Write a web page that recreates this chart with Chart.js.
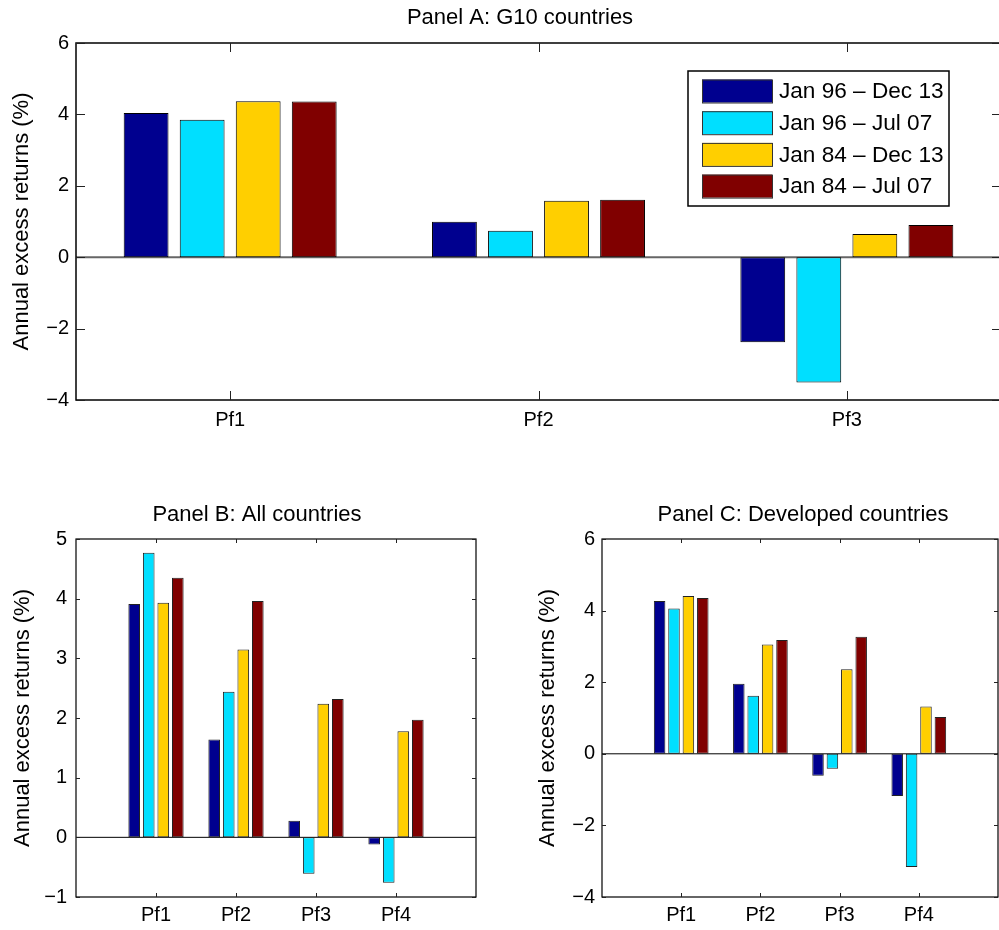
<!DOCTYPE html>
<html><head><meta charset="utf-8">
<script src="https://cdn.jsdelivr.net/npm/chart.js@4.4.0/dist/chart.umd.min.js"></script>
<style>
html,body{margin:0;padding:0;background:#fff;overflow:hidden;width:999px;height:930px;}
#wrap{position:relative;width:999px;height:930px;overflow:hidden;background:#fff;}
canvas{position:absolute;}
</style></head><body><div id="wrap">
<canvas id="cA" width="1003" height="440" style="left:0;top:0;width:1003px;height:440px"></canvas>
<canvas id="cB" width="500" height="440" style="left:0;top:490px;width:500px;height:440px"></canvas>
<canvas id="cC" width="484" height="440" style="left:520px;top:490px;width:484px;height:440px"></canvas>
</div>
<script>
// ---- data ----
const seriesNames = ['Jan 96 \u2013 Dec 13', 'Jan 96 \u2013 Jul 07', 'Jan 84 \u2013 Dec 13', 'Jan 84 \u2013 Jul 07'];
const seriesColors = ['#00008F', '#00DFFF', '#FFCF00', '#800000'];

const panelA_categories = ['Pf1', 'Pf2', 'Pf3'];
const panelA_jan96dec13 = [4.04, 0.99, -2.38];
const panelA_jan96jul07 = [3.85, 0.74, -3.51];
const panelA_jan84dec13 = [4.37, 1.58, 0.65];
const panelA_jan84jul07 = [4.36, 1.61, 0.90];
const panelA_yTicks = [-4, -2, 0, 2, 4, 6];

const panelB_categories = ['Pf1', 'Pf2', 'Pf3', 'Pf4'];
const panelB_jan96dec13 = [3.91, 1.64, 0.28, -0.12];
const panelB_jan96jul07 = [4.77, 2.44, -0.61, -0.76];
const panelB_jan84dec13 = [3.93, 3.15, 2.24, 1.78];
const panelB_jan84jul07 = [4.35, 3.96, 2.32, 1.97];
const panelB_yTicks = [-1, 0, 1, 2, 3, 4, 5];

const panelC_categories = ['Pf1', 'Pf2', 'Pf3', 'Pf4'];
const panelC_jan96dec13 = [4.27, 1.96, -0.61, -1.18];
const panelC_jan96jul07 = [4.06, 1.62, -0.42, -3.16];
const panelC_jan84dec13 = [4.41, 3.05, 2.36, 1.32];
const panelC_jan84jul07 = [4.35, 3.18, 3.27, 1.03];
const panelC_yTicks = [-4, -2, 0, 2, 4, 6];

const yTitle = 'Annual excess returns (%)';
const FONT = '"Liberation Sans", Arial, Helvetica, sans-serif';

// ---- plugin: MATLAB-style axes box, inward ticks, baseline, title, legend ----
const matlabAxes = {
  id: 'matlabAxes',
  beforeDatasetsDraw(chart, args, o) {
    const {ctx, chartArea: a, scales: {y}} = chart;
    const y0 = y.getPixelForValue(0);
    ctx.save();
    ctx.strokeStyle = o.baseColor; ctx.lineWidth = o.baseWidth;
    ctx.beginPath(); ctx.moveTo(a.left, y0); ctx.lineTo(a.right, y0); ctx.stroke();
    ctx.restore();
  },
  afterDatasetsDraw(chart, args, o) {
    const {ctx, chartArea: a, scales: {x, y}} = chart;
    ctx.save();
    ctx.strokeStyle = '#000'; ctx.lineWidth = o.frameWidth;
    ctx.strokeRect(a.left, a.top, a.right - a.left, a.bottom - a.top);
    ctx.lineWidth = 1; ctx.strokeStyle = '#222';
    const L = o.tickLen;
    ctx.beginPath();
    y.ticks.forEach(t => {
      const py = Math.round(y.getPixelForValue(t.value)) + 0.5;
      ctx.moveTo(a.left, py); ctx.lineTo(a.left + L, py);
      ctx.moveTo(a.right, py); ctx.lineTo(a.right - L, py);
    });
    x.ticks.forEach((t, i) => {
      const lab = chart.data.labels[t.value];
      if (!lab) return;
      const px = Math.round(x.getPixelForTick(i)) + 0.5;
      ctx.moveTo(px, a.bottom); ctx.lineTo(px, a.bottom - L);
      ctx.moveTo(px, a.top); ctx.lineTo(px, a.top + L);
    });
    ctx.stroke();
    ctx.restore();
  },
  afterDraw(chart, args, o) {
    const ctx = chart.ctx;
    ctx.save();
    ctx.fillStyle = '#000';
    ctx.font = o.titleSize + 'px ' + FONT;
    ctx.textAlign = 'center'; ctx.textBaseline = 'middle';
    ctx.fillText(o.title, o.titleX, o.titleY);
    if (o.legend) {
      const L = o.legend;
      ctx.fillStyle = '#fff';
      ctx.fillRect(L.x, L.y, L.w, L.h);
      ctx.strokeStyle = '#000'; ctx.lineWidth = 1.5;
      ctx.strokeRect(L.x, L.y, L.w, L.h);
      ctx.font = L.size + 'px ' + FONT;
      ctx.textAlign = 'left';
      chart.data.datasets.forEach((ds, i) => {
        const top = L.rowTop + i * L.rowStep;
        ctx.fillStyle = ds.backgroundColor;
        ctx.fillRect(L.swX, top, L.swW, L.swH);
        ctx.strokeStyle = '#333'; ctx.lineWidth = 1;
        ctx.strokeRect(L.swX + 0.5, top + 0.5, L.swW, L.swH);
        ctx.fillStyle = '#000';
        ctx.fillText(ds.label, L.textX, top + L.swH / 2 + 1);
      });
    }
    ctx.restore();
  }
};

function fmt(v) { return v < 0 ? '\u2212' + Math.abs(v) : String(v); }

function makePanel(id, cats, series, yTicks, g) {
  const pad = g.padEnds;
  const labels = pad ? [''].concat(cats, ['']) : cats.slice();
  const datasets = series.map((vals, i) => ({
    label: seriesNames[i],
    data: pad ? [null].concat(vals, [null]) : vals.slice(),
    backgroundColor: seriesColors[i],
    borderColor: g.barBorder,
    borderWidth: 1,
    borderSkipped: false,
    categoryPercentage: 0.727,
    barPercentage: 0.8
  }));
  return new Chart(document.getElementById(id), {
    type: 'bar',
    data: {labels, datasets},
    options: {
      responsive: false, animation: false, devicePixelRatio: 1,
      layout: {padding: {left: 0, top: g.top, right: g.right, bottom: 0}},
      plugins: {
        legend: {display: false}, tooltip: {enabled: false}, title: {display: false},
        matlabAxes: {
          baseColor: g.baseColor, baseWidth: g.baseWidth, frameWidth: g.frameWidth,
          tickLen: g.tickLen, title: g.title, titleX: g.titleX, titleY: g.titleY,
          titleSize: 22, legend: g.legend || null
        }
      },
      scales: {
        x: {
          offset: !pad,
          grid: {display: false, drawTicks: false},
          border: {display: false},
          ticks: {autoSkip: false, maxRotation: 0, minRotation: 0, padding: g.xPad,
                  color: '#000', font: {family: FONT, size: 20}},
          afterFit: s => { s.height = g.xH; }
        },
        y: {
          min: yTicks[0], max: yTicks[yTicks.length - 1],
          grid: {display: false, drawTicks: false},
          border: {display: false},
          afterBuildTicks: s => { s.ticks = yTicks.map(v => ({value: v})); },
          ticks: {padding: g.yPad, color: '#000', font: {family: FONT, size: 20},
                  callback: v => fmt(v)},
          title: {display: true, text: yTitle, color: '#000',
                  font: {family: FONT, size: 22}, padding: {top: g.yTitlePad, bottom: 0}},
          afterFit: s => { s.width = g.yW; }
        }
      }
    },
    plugins: [matlabAxes]
  });
}

makePanel('cA', panelA_categories,
  [panelA_jan96dec13, panelA_jan96jul07, panelA_jan84dec13, panelA_jan84jul07], panelA_yTicks,
  {padEnds: false, top: 43, right: 2, xH: 40, yW: 76, xPad: 8, yPad: 7, yTitlePad: 9,
   barBorder: '#000', baseColor: '#666', baseWidth: 2, frameWidth: 1.5, tickLen: 9,
   title: 'Panel A: G10 countries', titleX: 520, titleY: 18,
   legend: {x: 688, y: 71, w: 261, h: 135, swX: 702, swW: 70, swH: 23,
            rowTop: 79.5, rowStep: 31.7, textX: 779, size: 22.6}});

makePanel('cB', panelB_categories,
  [panelB_jan96dec13, panelB_jan96jul07, panelB_jan84dec13, panelB_jan84jul07], panelB_yTicks,
  {padEnds: true, top: 49, right: 24, xH: 33, yW: 76, xPad: 6, yPad: 9, yTitlePad: 10,
   barBorder: '#222', baseColor: '#000', baseWidth: 1, frameWidth: 1.2, tickLen: 4,
   title: 'Panel B: All countries', titleX: 257, titleY: 25});

makePanel('cC', panelC_categories,
  [panelC_jan96dec13, panelC_jan96jul07, panelC_jan84dec13, panelC_jan84jul07], panelC_yTicks,
  {padEnds: true, top: 49, right: 2, xH: 33, yW: 82, xPad: 6, yPad: 7, yTitlePad: 15,
   barBorder: '#222', baseColor: '#000', baseWidth: 1, frameWidth: 1.2, tickLen: 4,
   title: 'Panel C: Developed countries', titleX: 283, titleY: 25});
</script>
</body></html>
